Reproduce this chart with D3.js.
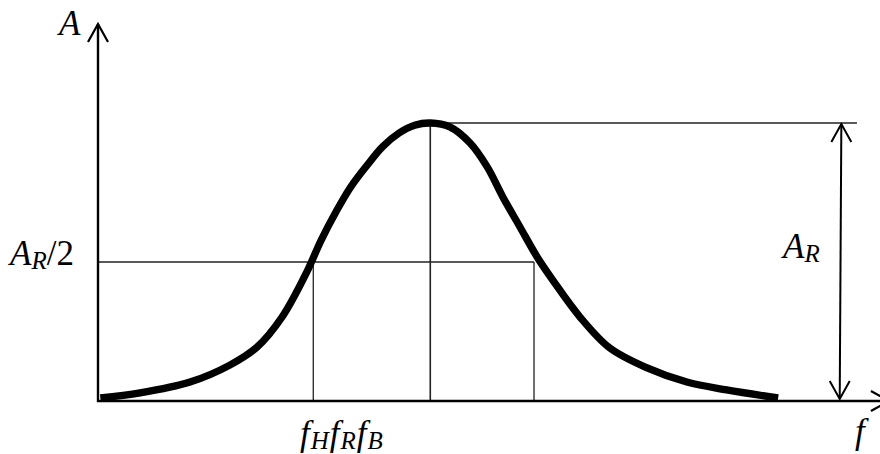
<!DOCTYPE html>
<html>
<head>
<meta charset="utf-8">
<script src="https://cdn.jsdelivr.net/npm/d3@7"></script>
<style>
  html, body { margin: 0; padding: 0; background: #fff; }
  svg { display: block; }
  text { font-family: "Liberation Serif", "Times New Roman", serif; fill: #000; }
</style>
</head>
<body>
<svg id="chart" width="880" height="454"></svg>
<script>
// Resonance curve: amplitude A against frequency f (arbitrary units)
const freq = [0.3, 5.4, 11.8, 16.9, 20.4, 23.6, 26.7, 28.6, 30.5, 32.4, 34.5, 36.5, 38.6, 40.6, 42.6,
              45.1, 47.7, 49.9, 51.9, 54.1, 56.3, 58.3, 61.8, 65.6, 70.4, 75.5, 80.6, 87.2];
const amp  = [0.011, 0.029, 0.068, 0.129, 0.194, 0.302, 0.460, 0.578, 0.680, 0.770, 0.848, 0.915, 0.964, 0.992, 1.0,
              0.986, 0.928, 0.842, 0.734, 0.626, 0.518, 0.435, 0.302, 0.191, 0.119, 0.068, 0.040, 0.011];

// Characteristic frequencies: lower band edge, resonance, upper band edge
const markerNames = ["H", "R", "B"];
const markerFreqs = [27.6, 42.6, 55.9];

const ampResonance = 1.0;              // A_R
const ampHalf = ampResonance / 2;      // A_R/2
const axisEnd = { f: 101.4, A: 1.356 };
const bracketFreq = [94.9, 95.3];      // A_R dimension arrow (bottom, top)
const peakLineEnd = 97.3;

const svg = d3.select("#chart");
const x = d3.scaleLinear().domain([0, 100]).range([98, 878]);
const y = d3.scaleLinear().domain([0, 1]).range([401, 123]);

const ink = "#000";

// open chevron arrowhead pointing along (dx,dy)
function chevron(tx, ty, dx, dy, len, half) {
  const n = Math.hypot(dx, dy), ux = dx / n, uy = dy / n;
  const bx = tx - ux * len, by = ty - uy * len;
  const px = -uy * half, py = ux * half;
  return `M${bx + px},${by + py}L${tx},${ty}L${bx - px},${by - py}`;
}

// guide lines (thin)
const thin = svg.append("g").attr("stroke", "#222").attr("stroke-width", 1.3).attr("fill", "none");
thin.append("line")
  .attr("x1", x(markerFreqs[1])).attr("x2", x(peakLineEnd))
  .attr("y1", y(ampResonance)).attr("y2", y(ampResonance));
thin.append("line")
  .attr("x1", x(0)).attr("x2", x(markerFreqs[2]))
  .attr("y1", y(ampHalf)).attr("y2", y(ampHalf));
markerFreqs.forEach((f, i) => {
  thin.append("line")
    .attr("x1", x(f)).attr("x2", x(f))
    .attr("y1", y(0)).attr("y2", y(i === 1 ? ampResonance : ampHalf))
    .attr("stroke-width", i === 1 ? 1.6 : 1.3);
});

// axes
const axes = svg.append("g").attr("stroke", ink).attr("fill", "none")
  .attr("stroke-width", 2.4).attr("stroke-linecap", "butt");
axes.append("line").attr("x1", x(0)).attr("x2", x(0)).attr("y1", y(0) + 1).attr("y2", y(axisEnd.A));
axes.append("line").attr("x1", x(0) - 1).attr("x2", x(axisEnd.f)).attr("y1", y(0)).attr("y2", y(0));
axes.append("path").attr("d", chevron(x(0), y(axisEnd.A), 0, -1, 18, 10)).attr("stroke-width", 2.2);
axes.append("path").attr("d", chevron(x(axisEnd.f), y(0), 1, 0, 18, 10)).attr("stroke-width", 2.2);

// A_R dimension arrow
const bx0 = x(bracketFreq[0]), bx1 = x(bracketFreq[1]);
const by0 = y(0) - 2, by1 = y(ampResonance) + 1;
const dim = svg.append("g").attr("stroke", ink).attr("fill", "none").attr("stroke-width", 2);
dim.append("line").attr("x1", bx0 + 1.5).attr("y1", by0).attr("x2", bx1).attr("y2", by1);
dim.append("path").attr("d", chevron(bx1, by1, 0, -1, 18, 10));
dim.append("path").attr("d", chevron(bx0 + 1.5, by0, 0, 1, 18, 10));

// response curve
const line = d3.line()
  .x((d, i) => x(freq[i]))
  .y((d, i) => y(amp[i]))
  .curve(d3.curveCatmullRom.alpha(0.5));
svg.append("path")
  .datum(freq)
  .attr("d", line)
  .attr("fill", "none")
  .attr("stroke", ink)
  .attr("stroke-width", 7.3)
  .attr("stroke-linecap", "butt")
  .attr("stroke-linejoin", "round");

// labels
const big = 35, sub = 25;
function subLabel(g, xPos, yPos, main, subTxt, extra) {
  const t = g.append("text").attr("x", xPos).attr("y", yPos).attr("font-size", big);
  t.append("tspan").attr("font-style", "italic").text(main);
  t.append("tspan").attr("font-style", "italic").attr("font-size", sub).attr("dy", 4).text(subTxt);
  if (extra) t.append("tspan").attr("dy", -4).text(extra);
  return t;
}
const labels = svg.append("g");
labels.append("text").attr("x", 59).attr("y", 35).attr("font-size", big)
  .attr("font-style", "italic").text("A");
subLabel(labels, 10, 265, "A", "R", "/2");
subLabel(labels, 783, 258, "A", "R");
labels.append("text").attr("x", 855).attr("y", 443).attr("font-size", big)
  .attr("font-style", "italic").text("f");

// band frequency labels, set closely together under fH
const fl = labels.append("text").attr("x", 300).attr("y", 445).attr("font-size", big).attr("font-style", "italic");
markerNames.forEach((n, i) => {
  fl.append("tspan").attr("dx", i === 0 ? 0 : 1).attr("dy", i === 0 ? 0 : -4).text("f");
  fl.append("tspan").attr("font-size", sub).attr("dx", 1).attr("dy", 4).text(n);
});
</script>
</body>
</html>
